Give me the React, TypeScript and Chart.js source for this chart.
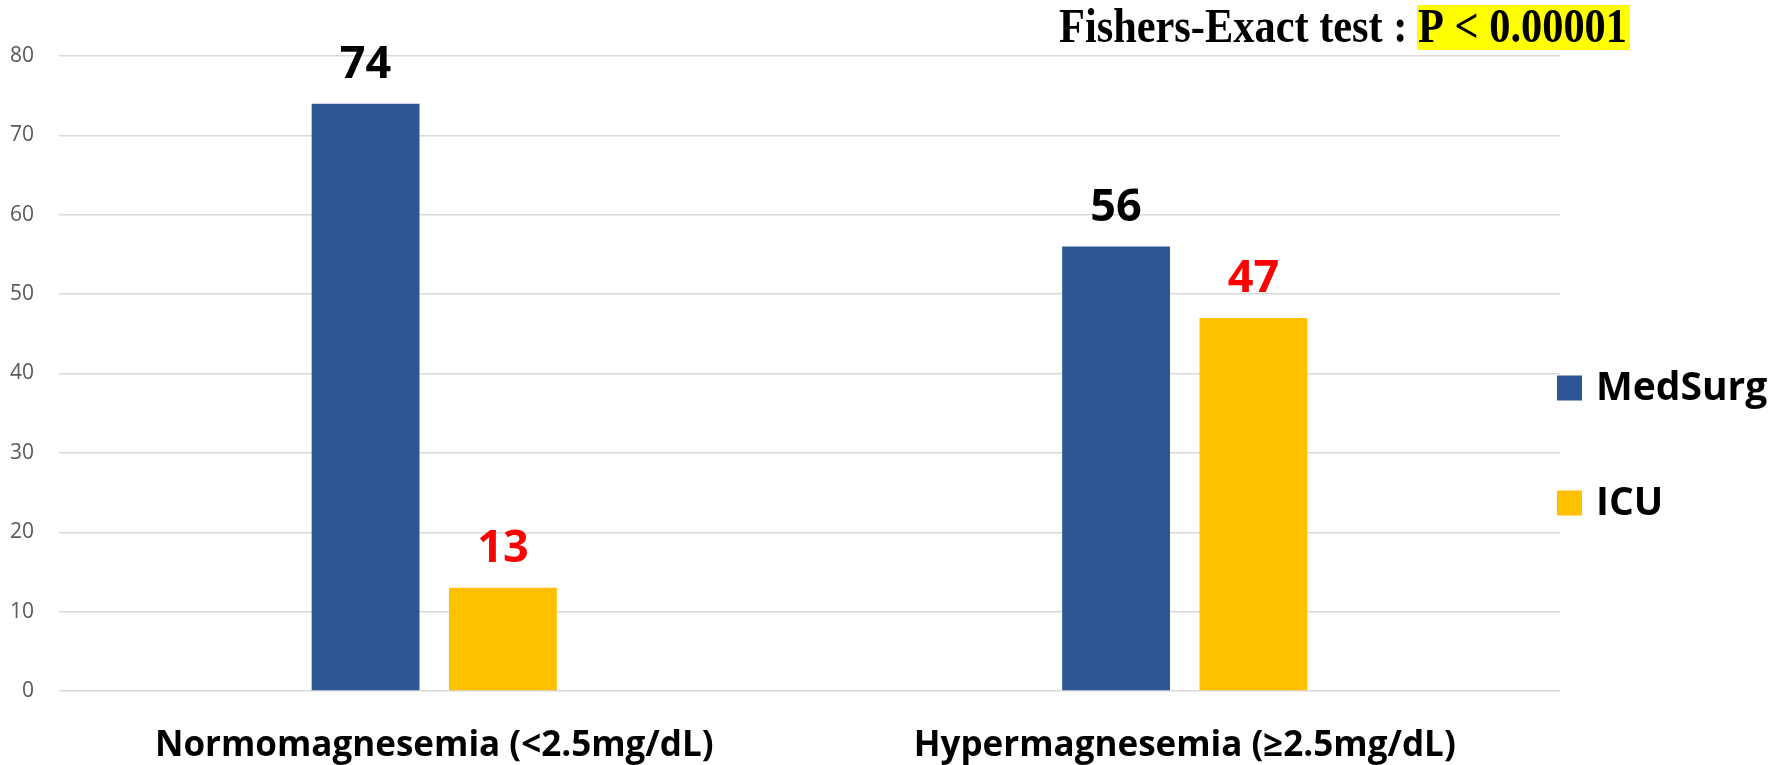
import React, { useEffect, useRef } from "react";
import { Chart, registerables } from "chart.js";

Chart.register(...registerables);

const categories = ["Normomagnesemia (<2.5mg/dL)", "Hypermagnesemia (≥2.5mg/dL)"];
const seriesNames = ["MedSurg", "ICU"];
const medSurgValues = [74, 56];
const icuValues = [13, 47];
const seriesColors = ["#2E5594", "#FFC000"];
const valueLabelColors = ["#000000", "#FF0000"];
const yTicks = [0, 10, 20, 30, 40, 50, 60, 70, 80];
const titlePrefix = "Fishers-Exact test : ";
const titleHighlight = "P < 0.00001";

// canvas is shifted left and made taller than the page; the page clips it
const SHIFT_X = 15;
const CANVAS_W = 1785 + SHIFT_X;
const CANVAS_H = 802;

const valueLabelPlugin = {
  id: "valueLabels",
  afterDatasetsDraw(chart: any) {
    const ctx = chart.ctx;
    ctx.save();
    ctx.font = "bold 45px 'Open Sans'";
    ctx.textAlign = "center";
    ctx.textBaseline = "alphabetic";
    chart.data.datasets.forEach((ds: any, di: number) => {
      const meta = chart.getDatasetMeta(di);
      meta.data.forEach((el: any, i: number) => {
        ctx.fillStyle = valueLabelColors[di];
        ctx.fillText(String(ds.data[i]), el.x, el.y - 26);
      });
    });
    ctx.restore();
  },
};

const legendPlugin = {
  id: "customLegend",
  afterDraw(chart: any) {
    const ctx = chart.ctx;
    const x = chart.chartArea.right - 3;
    const ys = [388, 503];
    ctx.save();
    ctx.font = "bold 39px 'Open Sans'";
    ctx.textBaseline = "middle";
    ctx.textAlign = "left";
    chart.data.datasets.forEach((ds: any, di: number) => {
      ctx.fillStyle = ds.backgroundColor;
      ctx.fillRect(x, ys[di] - 12.5, 25, 25);
      ctx.fillStyle = "#000000";
      ctx.fillText(ds.label, x + 39, ys[di] + 1);
    });
    ctx.restore();
  },
};

const titlePlugin = {
  id: "highlightTitle",
  afterDraw(chart: any) {
    const ctx = chart.ctx;
    const x0 = 1059 + SHIFT_X;
    const targetW = 568;
    const baseline = 42;
    ctx.save();
    ctx.font = "bold 48px 'Liberation Serif'";
    ctx.textBaseline = "alphabetic";
    ctx.textAlign = "left";
    const wPre = ctx.measureText(titlePrefix).width;
    const wHi = ctx.measureText(titleHighlight).width;
    const sx = targetW / (wPre + wHi);
    ctx.translate(x0, baseline);
    ctx.scale(sx, 1);
    ctx.fillStyle = "#FFFF00";
    ctx.fillRect(wPre - 1 / sx, -37, wHi + 4 / sx, 45);
    ctx.fillStyle = "#000000";
    ctx.fillText(titlePrefix, 0, 0);
    ctx.fillText(titleHighlight, wPre, 0);
    ctx.restore();
  },
};

export default function App() {
  const canvasRef = useRef<HTMLCanvasElement | null>(null);

  useEffect(() => {
    if (!canvasRef.current) return;
    const chart = new Chart(canvasRef.current, {
      type: "bar",
      data: {
        labels: categories,
        datasets: [
          {
            label: seriesNames[0],
            data: medSurgValues,
            backgroundColor: seriesColors[0],
            categoryPercentage: 0.366,
            barPercentage: 0.785,
          },
          {
            label: seriesNames[1],
            data: icuValues,
            backgroundColor: seriesColors[1],
            categoryPercentage: 0.366,
            barPercentage: 0.785,
          },
        ],
      },
      options: {
        responsive: false,
        animation: false,
        layout: { padding: { top: 56, right: 225, bottom: 0, left: 0 } },
        plugins: {
          legend: { display: false },
          title: { display: false },
          tooltip: { enabled: false },
        },
        scales: {
          x: {
            grid: { display: false, drawTicks: false },
            border: { display: false },
            ticks: {
              color: "#000000",
              padding: 38,
              font: { family: "'Open Sans'", size: 35, weight: "bold", lineHeight: 1 },
              maxRotation: 0,
            },
          },
          y: {
            min: yTicks[0],
            max: yTicks[yTicks.length - 1],
            afterBuildTicks: (axis: any) => {
              axis.ticks = yTicks.map((v) => ({ value: v }));
            },
            grid: { color: "#D9D9D9", lineWidth: 1.5, drawTicks: false },
            border: { display: false },
            ticks: {
              color: "#595959",
              padding: 25,
              font: { family: "'Open Sans'", size: 21 },
            },
          },
        },
      },
      plugins: [valueLabelPlugin, legendPlugin, titlePlugin],
    });
    return () => chart.destroy();
  }, []);

  return (
    <div
      style={{
        position: "fixed",
        left: 0,
        top: 0,
        width: 1785,
        height: 765,
        overflow: "hidden",
        background: "#ffffff",
      }}
    >
      <canvas
        ref={canvasRef}
        width={CANVAS_W}
        height={CANVAS_H}
        style={{ display: "block", position: "absolute", left: -SHIFT_X, top: 0 }}
      />
    </div>
  );
}
